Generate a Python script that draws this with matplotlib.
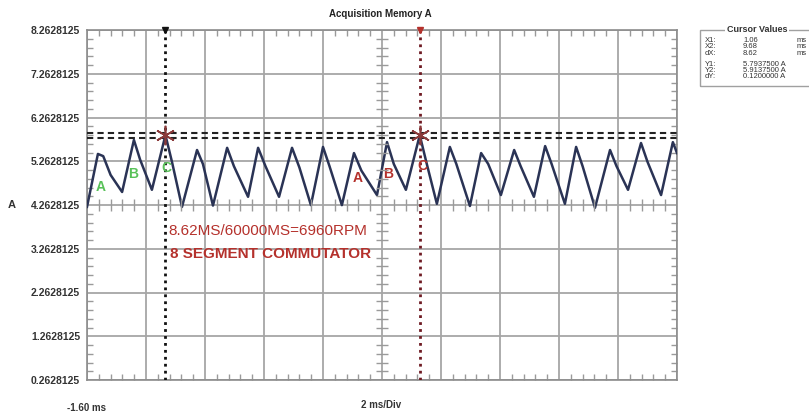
import numpy as np
import matplotlib
matplotlib.use("Agg")
import matplotlib.pyplot as plt
from matplotlib.patches import Rectangle
from matplotlib.ticker import AutoMinorLocator

plt.rcParams['font.family'] = ['Liberation Sans', 'DejaVu Sans']

# waveform (ms, A)
t_ms = [-1.60, -1.23, -1.05, -0.80, -0.41, -0.01, 0.20, 0.60, 1.06, 1.28,
        1.62, 2.13, 2.33, 2.67, 3.15, 3.38, 3.86, 4.20, 4.45, 4.91,
        5.35, 5.60, 5.99, 6.40, 6.62, 7.04, 7.45, 7.70, 8.23, 8.57,
        8.80, 9.21, 9.68, 9.90, 10.26, 10.70, 10.92, 11.38, 11.76, 12.00,
        12.43, 12.88, 13.10, 13.55, 13.93, 14.15, 14.60, 14.98, 15.20, 15.62,
        16.13, 16.35, 16.74, 17.18, 17.40, 17.86, 18.26, 18.40]
amps = [4.22, 5.43, 5.38, 4.95, 4.56, 5.75, 5.30, 4.61, 5.86, 5.25,
        4.22, 5.52, 5.20, 4.25, 5.57, 5.15, 4.45, 5.57, 5.15, 4.45,
        5.57, 5.12, 4.26, 5.59, 5.15, 4.26, 5.45, 5.05, 4.49, 5.70,
        5.20, 4.61, 5.86, 5.25, 4.29, 5.59, 5.20, 4.24, 5.45, 5.20,
        4.49, 5.52, 5.15, 4.45, 5.61, 5.20, 4.29, 5.59, 5.15, 4.20,
        5.52, 5.15, 4.61, 5.68, 5.25, 4.49, 5.70, 5.45]

y_ticks = [0.2628125, 1.2628125, 2.2628125, 3.2628125, 4.2628125,
           5.2628125, 6.2628125, 7.2628125, 8.2628125]
t_start = -1.60
ms_per_div = 2
n_div = 10

x1, x2 = 1.06, 9.68
y1, y2 = 5.79375, 5.91375

seg_labels = ['A', 'B', 'C']
green_t = [-1.125, -0.04, 1.08]
green_v = [4.67, 4.97, 5.11]
red_t = [7.59, 8.60, 9.76]
red_v = [4.88, 4.97, 5.15]

cursor_rows = [('X1:', '1.06', 'ms'), ('X2:', '9.68', 'ms'), ('dX:', '8.62', 'ms'),
               ('Y1:', '5.7937500 A', ''), ('Y2:', '5.9137500 A', ''),
               ('dY:', '0.1200000 A', '')]

W, H = 809, 413
fig = plt.figure(figsize=(W / 100, H / 100), dpi=100)
rect = [87 / W, 1 - 380 / H, 590 / W, 350 / H]
ax = fig.add_axes(rect)
xlim = (t_start, t_start + ms_per_div * n_div)
ylim = (y_ticks[0], y_ticks[-1])
ax.set_xlim(*xlim)
ax.set_ylim(*ylim)

xt = [t_start + ms_per_div * i for i in range(n_div + 1)]
ax.set_xticks(xt)
ax.set_yticks(y_ticks)
ax.set_yticklabels(['%.7f' % v for v in y_ticks])
ax.tick_params(which='major', length=0, labelsize=7.5, labelcolor='#333333',
               pad=5, labelbottom=False)
for lab in ax.get_yticklabels():
    lab.set_fontweight('bold')
ax.xaxis.set_minor_locator(AutoMinorLocator(5))
ax.yaxis.set_minor_locator(AutoMinorLocator(5))
ax.tick_params(which='minor', direction='in', length=4.5, width=1,
               color='#9a9a9a', top=True, right=True)
ax.grid(True, which='major', color='#a6a6a6', lw=1.3)
for s in ax.spines.values():
    s.set_color('#8c8c8c')
    s.set_linewidth(1.2)

# centre axes with cross ticks
ax2 = fig.add_axes(rect)
ax2.set_xlim(*xlim)
ax2.set_ylim(*ylim)
ax2.patch.set_alpha(0)
ax2.spines['left'].set_position(('axes', 0.5))
ax2.spines['bottom'].set_position(('axes', 0.5))
for s in ax2.spines.values():
    s.set_color('none')
ax2.set_xticks(xt)
ax2.set_yticks(y_ticks)
ax2.xaxis.set_minor_locator(AutoMinorLocator(5))
ax2.yaxis.set_minor_locator(AutoMinorLocator(5))
ax2.tick_params(which='major', length=0, labelleft=False, labelbottom=False)
ax2.tick_params(which='minor', direction='inout', length=8, width=1, color='#9a9a9a')

# cursors
ax.axhline(y1, color='#222222', lw=1.5, ls=(0, (3, 2)), zorder=3)
ax.axhline(y2, color='#222222', lw=1.5, ls=(0, (3, 2)), zorder=3)
ax.axvline(x1, color='#111111', lw=2, ls=(0, (1, 1.5)), zorder=3)
ax.axvline(x2, color='#6e1a22', lw=2, ls=(0, (1, 1.5)), zorder=3)

ax.plot(t_ms, amps, color='#2a3355', lw=1.8, zorder=4, solid_joinstyle='round')

ax.plot([x1, x2], [(y1 + y2) / 2] * 2, ls='none', marker=(6, 2, 0),
        ms=14, mew=1.2, color='#8b3a3a', zorder=5)
ax.plot([x1], [ylim[1]], marker='v', ms=5, color='#111111', clip_on=False, zorder=6)
ax.plot([x2], [ylim[1]], marker='v', ms=4, color='#b5312c', clip_on=False, zorder=6)

for lab, t, v in zip(seg_labels, green_t, green_v):
    ax.text(t, v, lab, color='#58c158', fontsize=10, weight='bold',
            ha='center', va='center', zorder=6)
for lab, t, v in zip(seg_labels, red_t, red_v):
    ax.text(t, v, lab, color='#b5312c', fontsize=10, weight='bold',
            ha='center', va='center', zorder=6)

ax.text(1.15, 3.67, '8.62MS/60000MS=6960RPM', color='#b5312c', fontsize=11,
        ha='left', va='center', zorder=6)
ax.text(1.21, 3.14, '8 SEGMENT COMMUTATOR', color='#b5312c', fontsize=11,
        weight='bold', ha='left', va='center', zorder=6)

# outer texts
fig.text(380 / W, 1 - 14 / H, 'Acquisition Memory A', ha='center', va='center',
         fontsize=7, weight='bold', color='#222222')
fig.text(12 / W, 1 - 205 / H, 'A', ha='center', va='center', fontsize=8,
         weight='bold', color='#333333')
fig.text(67 / W, 1 - 408 / H, '-1.60 ms', ha='left', va='center', fontsize=7,
         weight='bold', color='#333333')
fig.text(381 / W, 1 - 405 / H, '2 ms/Div', ha='center', va='center', fontsize=7,
         weight='bold', color='#333333')

# cursor values box
fig.add_artist(Rectangle((700 / W, 1 - 86 / H), 130 / W, 56 / H,
                         transform=fig.transFigure, fill=False,
                         ec='#a0a0a0', lw=1))
fig.text(757 / W, 1 - 30 / H, 'Cursor Values', ha='center', va='center',
         fontsize=6.5, weight='bold', color='#333333',
         bbox=dict(fc='white', ec='none', pad=1))
row_y = [40.5, 46.8, 53.1, 64, 70.3, 76.6]
for (a, b, c), yy in zip(cursor_rows, row_y):
    fig.text(705 / W, 1 - yy / H, a, ha='left', va='center', fontsize=5.5, color='#333333')
    fig.text(743 / W, 1 - yy / H, b, ha='left', va='center', fontsize=5.5, color='#333333')
    if c:
        fig.text(797 / W, 1 - yy / H, c, ha='left', va='center', fontsize=5.5, color='#333333')

fig.savefig('out.png', dpi=100)
